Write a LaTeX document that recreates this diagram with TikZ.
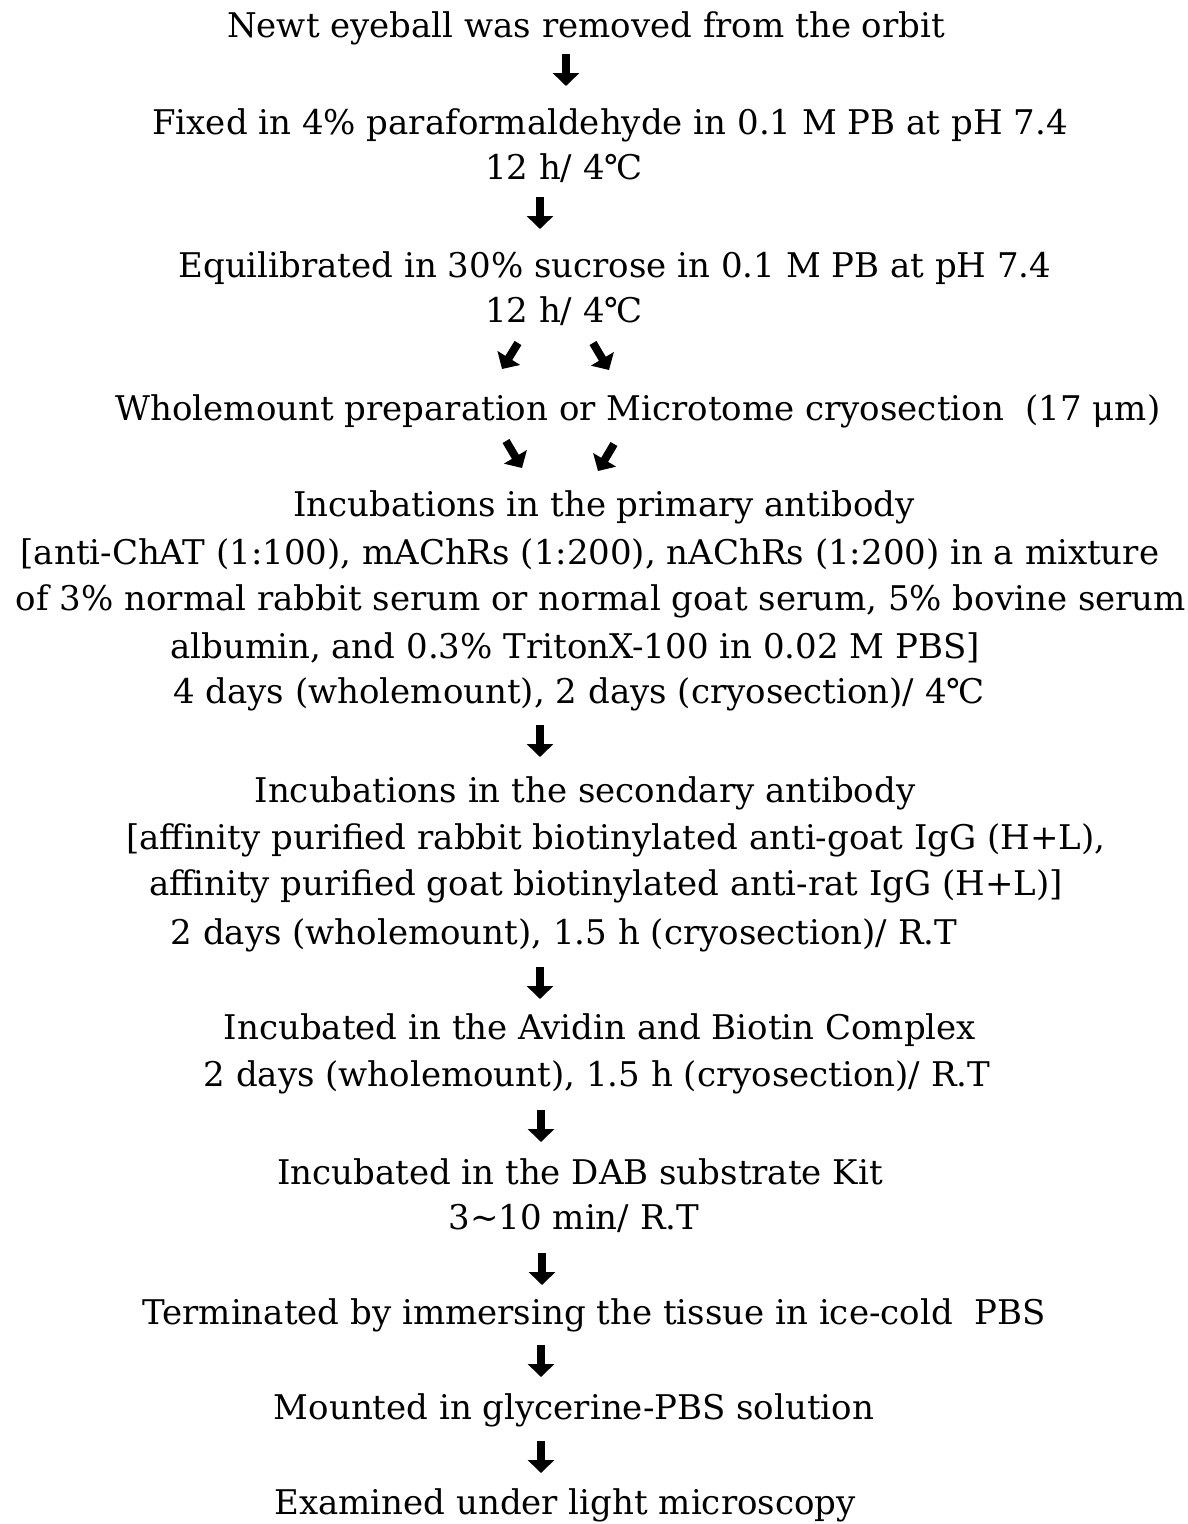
\documentclass[tikz,border=0pt]{standalone}
\usepackage{fontspec}
\setmainfont{DejaVu Serif}
\usetikzlibrary{arrows.meta}
\tikzset{
  txt/.style={inner sep=0pt, anchor=center, font=\fontsize{34}{40}\selectfont},
  fat/.style={line width=8pt, -{Triangle[length=13pt,width=26pt]}, shorten >=0pt}
}
\begin{document}
\begin{tikzpicture}[x=1pt,y=-1pt]
\useasboundingbox[fill=white] (0,0) rectangle (1187,1524);
\node[txt] (l1) at (586,28) {Newt eyeball was removed from the orbit};
\node[txt] (l2) at (610,125) {Fixed in 4\% paraformaldehyde in 0.1 M PB at pH 7.4};
\node[txt] (l3) at (564,168) {12 h/ 4℃};
\node[txt] (l4) at (615,268) {Equilibrated in 30\% sucrose in 0.1 M PB at pH 7.4};
\node[txt] (l5) at (564,311) {12 h/ 4℃};
\node[txt] (l6) at (638,411) {Wholemount preparation or Microtome cryosection\ \ (17 μm)};
\node[txt] (l7) at (604,507) {Incubations in the primary antibody};
\node[txt] (l8) at (590,554) {[anti-ChAT (1:100), mAChRs (1:200), nAChRs (1:200) in a mixture};
\node[txt] (l9) at (601,601) {of 3\% normal rabbit serum or normal goat serum, 5\% bovine serum};
\node[txt] (l10) at (575,648) {albumin, and 0.3\% TritonX-100 in 0.02 M PBS]};
\node[txt] (l11) at (579,694) {4 days (wholemount), 2 days (cryosection)/ 4℃};
\node[txt] (l12) at (585,793) {Incubations in the secondary antibody};
\node[txt] (l13) at (616,840) {[affinity purified rabbit biotinylated anti-goat IgG (H+L),};
\node[txt] (l14) at (606,886) {affinity purified goat biotinylated anti-rat IgG (H+L)]};
\node[txt] (l15) at (564,935) {2 days (wholemount), 1.5 h (cryosection)/ R.T};
\node[txt] (l16) at (600,1030) {Incubated in the Avidin and Biotin Complex};
\node[txt] (l17) at (597,1077) {2 days (wholemount), 1.5 h (cryosection)/ R.T};
\node[txt] (l18) at (580,1172) {Incubated in the DAB substrate Kit};
\node[txt] (l19) at (574,1218) {3\textasciitilde10 min/ R.T};
\node[txt] (l20) at (594,1315) {Terminated by immersing the tissue in ice-cold\ \ PBS};
\node[txt] (l21) at (574,1410) {Mounted in glycerine-PBS solution};
\node[txt] (l22) at (565,1505) {Examined under light microscopy};
% arrow coordinates
\coordinate (a1s) at (566,54); \coordinate (a1e) at (566,86);
\coordinate (a2s) at (540,197); \coordinate (a2e) at (540,229);
\coordinate (a3ls) at (518,343); \coordinate (a3le) at (502,369);
\coordinate (a3rs) at (593,343); \coordinate (a3re) at (609,370);
\coordinate (a4ls) at (506,441); \coordinate (a4le) at (522,468);
\coordinate (a4rs) at (614,444); \coordinate (a4re) at (598,471);
\coordinate (a5s) at (540,725); \coordinate (a5e) at (540,757);
\coordinate (a6s) at (540,967); \coordinate (a6e) at (540,999);
\coordinate (a7s) at (541,1110); \coordinate (a7e) at (541,1142);
\coordinate (a8s) at (542,1253); \coordinate (a8e) at (542,1285);
\coordinate (a9s) at (541,1345); \coordinate (a9e) at (541,1377);
\coordinate (a10s) at (541,1441); \coordinate (a10e) at (541,1473);
\foreach \a in {a1,a2,a5,a6,a7,a8,a9,a10,a3l,a3r,a4l,a4r}
  \draw[fat] (\a s) -- (\a e);
\end{tikzpicture}
\end{document}
